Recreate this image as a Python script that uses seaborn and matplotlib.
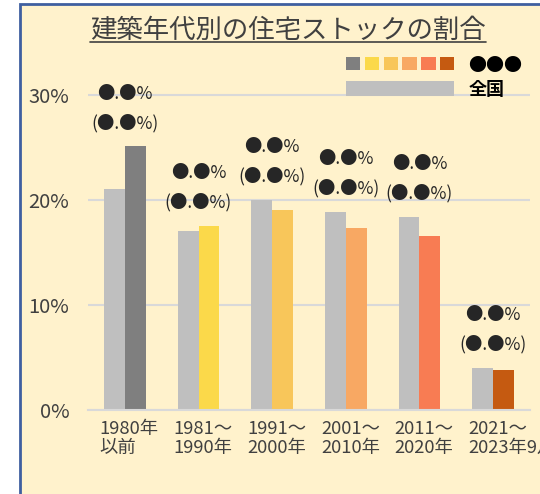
import matplotlib
matplotlib.use("Agg")
import matplotlib.pyplot as plt
from matplotlib.patches import Rectangle, Patch
from matplotlib.lines import Line2D
from matplotlib.legend_handler import HandlerTuple, HandlerPatch
from matplotlib.ticker import FuncFormatter
from matplotlib.transforms import ScaledTranslation
import seaborn as sns
import pandas as pd

# ---- data ----
categories = ["1980年\n以前", "1981～\n1990年", "1991～\n2000年",
              "2001～\n2010年", "2011～\n2020年", "2021～\n2023年9月"]
national = [21.0, 17.0, 20.0, 18.9, 18.4, 4.0]
regional = [25.1, 17.5, 19.0, 17.3, 16.6, 3.8]
series_names = ["全国", "●●●"]
regional_colors = ["#7F7F7F", "#FBD94A", "#F8C65A", "#F8A863", "#F87C53", "#C55A11"]
national_color = "#BFBFBF"
value_label = "●.●%"
paren_label = "(●.●%)"
title = "建築年代別の住宅ストックの割合"
yticks = [0, 10, 20, 30]

sns.set_theme(style="white")
plt.rcParams["font.family"] = ["Noto Sans CJK JP", "DejaVu Sans"]

BG = "#FFF2CC"
TXT = "#404040"

df = pd.DataFrame({
    "cat": categories * 2,
    "series": [series_names[0]] * len(categories) + [series_names[1]] * len(categories),
    "val": national + regional,
})

fig = plt.figure(figsize=(5.4, 4.94), dpi=100)
fig.patch.set_facecolor("white")
frame = Rectangle((20 / 540, -0.1), 1.2, 1.1 - 4 / 494, transform=fig.transFigure,
                  facecolor=BG, edgecolor="#3F5FA0", linewidth=2, zorder=-5)
fig.add_artist(frame)

W, H = 540, 494
ax = fig.add_axes([88 / W, (H - 410) / H, 442 / W, (410 - 63.5) / H])
ax.set_facecolor("none")

sns.barplot(data=df, x="cat", y="val", hue="series", hue_order=series_names,
            order=categories, palette=[national_color, regional_colors[0]],
            width=0.57, legend=False, ax=ax, saturation=1)

for bar, c in zip(ax.containers[1], regional_colors):
    bar.set_facecolor(c)
for bar in ax.containers[0]:
    bar.set_facecolor(national_color)
for cont in ax.containers:
    for bar in cont:
        bar.set_edgecolor("none")

ax.set_ylim(0, 33)
ax.set_yticks(yticks)
ax.yaxis.set_major_formatter(FuncFormatter(lambda v, p: f"{v:.0f}%"))
ax.grid(axis="y", color="#D9D9D9", linewidth=1.5)
ax.set_axisbelow(True)
for s in ["top", "right", "left"]:
    ax.spines[s].set_visible(False)
ax.spines["bottom"].set_color("#D9D9D9")
ax.spines["bottom"].set_linewidth(1.5)
ax.set_xlabel("")
ax.set_ylabel("")
ax.tick_params(axis="y", length=0, pad=13.5, labelsize=14.5, labelcolor=TXT)
ax.tick_params(axis="x", length=0, pad=7.5, labelsize=13.2, labelcolor=TXT)
shift = ScaledTranslation(-25 / 100, 0, fig.dpi_scale_trans)
for t in ax.get_xticklabels():
    t.set_multialignment("left")
    t.set_horizontalalignment("left")
    t.set_linespacing(1.05)
    t.set_transform(t.get_transform() + shift)

# value labels
for i, (a, b) in enumerate(zip(national, regional)):
    top = max(a, b)
    ax.annotate(paren_label, (i, top), xytext=(0, 17), textcoords="offset points",
                ha="center", va="center", fontsize=12.5, color="#262626")
    ax.annotate(value_label, (i, top), xytext=(0, 38), textcoords="offset points",
                ha="center", va="center", fontsize=12.5, color="#262626")


# legend
def square_patch(legend, orig_handle, xdescent, ydescent, width, height, fontsize):
    h = height * 14.0 / 17.0
    return Rectangle((-xdescent, -ydescent + (height - h) / 2 + 0.8), width, h)


reg_handles = tuple(Rectangle((0, 0), 1, 1, facecolor=c, edgecolor="none") for c in regional_colors)
nat_handle = Patch(facecolor=national_color, edgecolor="none")
leg = fig.legend(handles=[reg_handles, nat_handle], labels=[series_names[1], series_names[0]],
                 handler_map={tuple: HandlerTuple(ndivide=None, pad=0.24),
                              Rectangle: HandlerPatch(patch_func=square_patch)},
                 loc="upper left", bbox_to_anchor=(346 / W, 1 - 57 / H),
                 bbox_transform=fig.transFigure, frameon=False, fontsize=13,
                 handlelength=6.0, handleheight=0.94, handletextpad=0.78,
                 labelspacing=0.25, borderpad=0, borderaxespad=0)
leg.get_texts()[1].set_fontweight("bold")
for t in leg.get_texts():
    t.set_color("black")

# title with underline
tt = fig.text(288 / W, 1 - 38 / H, title, ha="center", va="baseline",
              fontsize=19, color=TXT)
fig.canvas.draw()
bb = tt.get_window_extent()
uy = bb.y0 + 1.5
fig.add_artist(Line2D([bb.x0 / W, bb.x1 / W], [uy / H, uy / H], transform=fig.transFigure,
                      color=TXT, linewidth=1.2))

fig.savefig("out.png", dpi=100, facecolor=fig.get_facecolor())
